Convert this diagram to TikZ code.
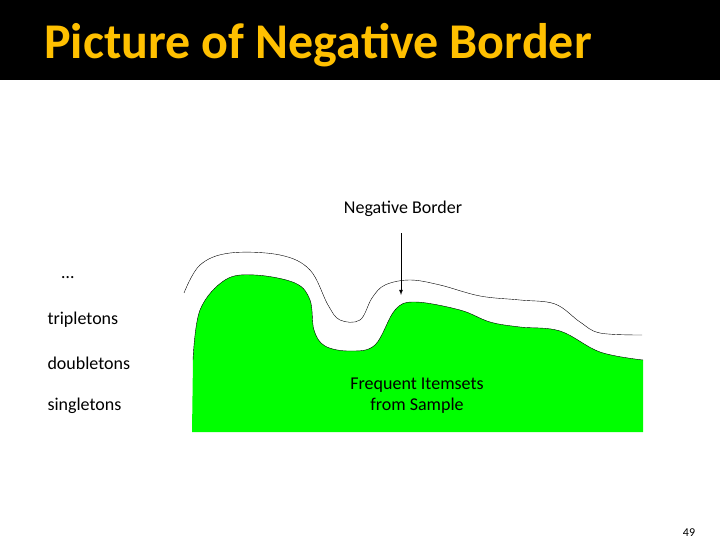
\documentclass[tikz,border=0pt]{standalone}
\usepackage{fontspec}
\setmainfont{Carlito}
\usetikzlibrary{arrows}
\definecolor{titlegold}{HTML}{FFC000}
\definecolor{freqgreen}{HTML}{00FF00}
\tikzset{
  lvl/.style={anchor=west,font=\fontsize{18}{21}\selectfont},
  lbl/.style={align=center,font=\fontsize{18}{21}\selectfont}
}
\begin{document}
\begin{tikzpicture}[x=1pt,y=-1pt]
   \useasboundingbox (0,0) rectangle (720,540);
   \fill[black] (0,0) rectangle (720,80);
   \node[anchor=west,inner sep=0pt,text=titlegold,font=\fontsize{50}{54}\selectfont\bfseries] (title) at (44,45) {Picture of Negative Border};

   % frequent itemsets
   \fill[freqgreen] (192,432) -- plot[smooth,tension=0.6] coordinates {(193,360) (200,310) (225,280) (255,275) (295,283) (310,300) (314,330) (325,346) (350,351) (375,345) (395,310) (415,302) (460,310) (490,322) (520,327) (560,331) (600,352) (643,360)} -- (643,432) -- cycle;
   \draw plot[smooth,tension=0.6] coordinates {(193,360) (200,310) (225,280) (255,275) (295,283) (310,300) (314,330) (325,346) (350,351) (375,345) (395,310) (415,302) (460,310) (490,322) (520,327) (560,331) (600,352) (643,360)};

   % negative border
   \draw plot[smooth,tension=0.6] coordinates {(184,293) (200,265) (230,253) (280,255) (310,270) (328,305) (340,320) (360,320) (372,298) (385,285) (410,280) (440,285) (480,296) (520,300) (555,304) (580,322) (600,333) (642,335)};

   \node[lbl] (negb) at (403,209) {Negative Border};
   \coordinate (tip) at (401,295);
   \draw[-latex,thick] (401,233) -- (tip);
   \node[lbl] (freq) at (417,396) {Frequent Itemsets\\from Sample};

   \node[lvl] (dots) at (58,278) {\dots};
   \node[lvl] (trip) at (44,320) {tripletons};
   \node[lvl] (doub) at (44,363) {doubletons};
   \node[lvl] (sing) at (44,406) {singletons};
   \node[font=\fontsize{12}{13}\selectfont] (pg) at (689,533) {49};
\end{tikzpicture}
\end{document}
